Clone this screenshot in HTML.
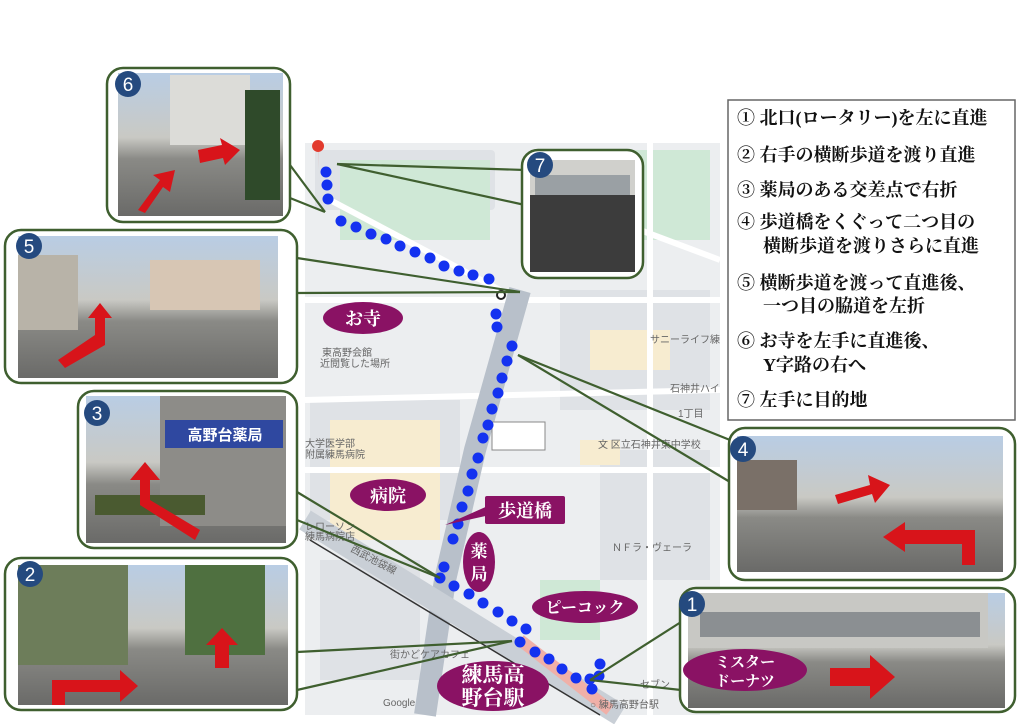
<!DOCTYPE html><html><head><meta charset="utf-8"><style>
body{margin:0;background:#fff;width:1024px;height:724px;overflow:hidden}
svg{display:block}
.t{font-family:"Liberation Serif","Noto Serif CJK SC",serif;font-size:18px;fill:#111;font-weight:bold}
.w{font-family:"Liberation Serif","Noto Serif CJK SC",serif;fill:#fff;text-anchor:middle;font-weight:bold}
.m{font-family:"Liberation Sans","Noto Sans CJK JP",sans-serif;font-size:10px;fill:#666}
</style></head><body>
<svg width="1024" height="724" viewBox="0 0 1024 724">
<rect x="305" y="143" width="415" height="572" fill="#eceef0"/>
<g fill="#dfe2e6">
<rect x="315" y="150" width="180" height="60" rx="4"/><rect x="560" y="290" width="150" height="120"/>
<rect x="310" y="400" width="150" height="120"/><rect x="600" y="450" width="110" height="130"/>
<rect x="320" y="560" width="100" height="120"/>
</g>
<g fill="#cfe8d6"><rect x="340" y="160" width="150" height="80"/><rect x="600" y="150" width="110" height="90"/><rect x="540" y="580" width="60" height="60"/></g>
<rect x="590" y="330" width="80" height="40" fill="#f7ecd0"/>
<rect x="330" y="420" width="110" height="120" fill="#f7ecd0"/>
<rect x="580" y="440" width="40" height="25" fill="#f7ecd0"/>
<g stroke="#fff" stroke-width="6" fill="none">
<path d="M330 200 L500 290"/><path d="M305 300 L720 300"/><path d="M560 200 L720 260"/><path d="M305 470 L720 470"/><path d="M650 143 L650 715"/><path d="M305 400 L720 390"/>
</g>
<path d="M520 290 L475 450 L445 580 L425 715" stroke="#b8c0ca" stroke-width="22" fill="none"/>
<path d="M305 520 L620 715" stroke="#c9cfd6" stroke-width="22" fill="none"/>
<path d="M310 540 L600 715" stroke="#333" stroke-width="1.5" fill="none"/>
<path d="M520 640 L610 710" stroke="#f0b0a8" stroke-width="12" fill="none"/>
<text x="322" y="356" class="m">東高野会館</text><text x="320" y="367" class="m" font-size="8">近閲覧した場所</text>
<text x="650" y="343" class="m">サニーライフ練</text><text x="670" y="392" class="m">石神井ハイ</text><text x="678" y="417" class="m">1丁目</text>
<text x="598" y="448" class="m" font-size="11">文 区立石神井東中学校</text>
<text x="612" y="551" class="m" font-size="11">ＮＦラ・ヴェーラ</text>
<text x="305" y="447" class="m" fill="#c33">大学医学部</text><text x="305" y="458" class="m" fill="#c33">附属練馬病院</text>
<text x="305" y="530" class="m" fill="#2a8fc7">レローソン</text><text x="305" y="540" class="m" fill="#2a8fc7">練馬病院店</text>
<text x="350" y="551" class="m" transform="rotate(28 350 551)">西武池袋線</text>
<text x="390" y="658" class="m" fill="#a77bc9">街かどケアカフェ</text>
<text x="383" y="706" class="m" font-size="13" fill="#4a7ae0">Google</text>
<text x="590" y="708" class="m" fill="#222" font-size="11">○ 練馬高野台駅</text>
<text x="640" y="688" class="m" fill="#2a8fc7">セブン</text>
<path d="M318 152 a6 6 0 1 1 0.1 0 L318 170 Z" fill="#e23b2e"/>
<rect x="492" y="422" width="53" height="28" fill="#fff" stroke="#888"/>
<g fill="#1432f0">
<circle cx="326" cy="172" r="5.5"/><circle cx="327" cy="185" r="5.5"/><circle cx="328" cy="199" r="5.5"/><circle cx="341" cy="221" r="5.5"/><circle cx="356" cy="227" r="5.5"/><circle cx="371" cy="234" r="5.5"/><circle cx="386" cy="239" r="5.5"/><circle cx="400" cy="246" r="5.5"/><circle cx="415" cy="252" r="5.5"/><circle cx="430" cy="258" r="5.5"/><circle cx="444" cy="266" r="5.5"/><circle cx="459" cy="271" r="5.5"/><circle cx="473" cy="275" r="5.5"/><circle cx="489" cy="279" r="5.5"/>
<circle cx="496" cy="314" r="5.5"/><circle cx="497" cy="327" r="5.5"/><circle cx="512" cy="346" r="5.5"/><circle cx="507" cy="361" r="5.5"/><circle cx="502" cy="378" r="5.5"/><circle cx="498" cy="393" r="5.5"/><circle cx="492" cy="409" r="5.5"/><circle cx="488" cy="425" r="5.5"/><circle cx="483" cy="438" r="5.5"/>
<circle cx="478" cy="458" r="5.5"/><circle cx="472" cy="474" r="5.5"/><circle cx="468" cy="491" r="5.5"/><circle cx="462" cy="507" r="5.5"/><circle cx="458" cy="524" r="5.5"/><circle cx="453" cy="539" r="5.5"/><circle cx="444" cy="567" r="5.5"/><circle cx="440" cy="578" r="5.5"/><circle cx="454" cy="586" r="5.5"/><circle cx="469" cy="594" r="5.5"/><circle cx="483" cy="603" r="5.5"/><circle cx="498" cy="612" r="5.5"/><circle cx="512" cy="621" r="5.5"/><circle cx="526" cy="629" r="5.5"/><circle cx="520" cy="642" r="5.5"/><circle cx="535" cy="652" r="5.5"/><circle cx="549" cy="659" r="5.5"/><circle cx="562" cy="669" r="5.5"/><circle cx="576" cy="678" r="5.5"/><circle cx="590" cy="679" r="5.5"/><circle cx="599" cy="676" r="5.5"/><circle cx="592" cy="689" r="5.5"/><circle cx="600" cy="664" r="5.5"/>
</g>
<circle cx="501" cy="295" r="4" fill="#fff" stroke="#222" stroke-width="2"/>
<g stroke="#3f5f2f" stroke-width="2.2" fill="none">
<path d="M290 165 L325 212"/><path d="M290 198 L325 212"/>
<path d="M337 164 L525 170"/><path d="M337 164 L525 205"/>
<path d="M297 258 L520 292"/><path d="M297 293 L520 292"/>
<path d="M518 355 L730 440"/><path d="M518 355 L730 482"/>
<path d="M297 492 L440 578"/><path d="M297 520 L440 578"/>
<path d="M297 652 L512 641"/><path d="M297 690 L512 641"/>
<path d="M590 680 L681 622"/><path d="M590 680 L681 690"/>
</g>
<rect x="728" y="100" width="287" height="320" fill="#fff" stroke="#666" stroke-width="1.5"/>
<text class="t" x="737" y="124">① 北口(ロータリー)を左に直進</text>
<text class="t" x="737" y="161">② 右手の横断歩道を渡り直進</text>
<text class="t" x="737" y="196">③ 薬局のある交差点で右折</text>
<text class="t" x="737" y="228">④ 歩道橋をくぐって二つ目の</text>
<text class="t" x="763" y="252">横断歩道を渡りさらに直進</text>
<text class="t" x="737" y="289">⑤ 横断歩道を渡って直進後、</text>
<text class="t" x="763" y="312">一つ目の脇道を左折</text>
<text class="t" x="737" y="347">⑥ お寺を左手に直進後、</text>
<text class="t" x="763" y="371">Y字路の右へ</text>
<text class="t" x="737" y="406">⑦ 左手に目的地</text>
<defs>
<linearGradient id="sky" x1="0" y1="0" x2="0" y2="1"><stop offset="0" stop-color="#b9cde4"/><stop offset=".45" stop-color="#c9c9c4"/><stop offset=".6" stop-color="#8a8a86"/><stop offset="1" stop-color="#6a6a68"/></linearGradient>
</defs>
<g stroke="#3f5f2f" stroke-width="2.5">
<rect x="107" y="68" width="183" height="154" rx="16" fill="#fff"/>
<rect x="5" y="230" width="292" height="153" rx="16" fill="#fff"/>
<rect x="78" y="391" width="219" height="157" rx="16" fill="#fff"/>
<rect x="5" y="558" width="292" height="152" rx="16" fill="#fff"/>
<rect x="729" y="428" width="286" height="152" rx="16" fill="#fff"/>
<rect x="680" y="588" width="335" height="124" rx="16" fill="#fff"/>
<rect x="522" y="150" width="121" height="128" rx="16" fill="#fff"/>
</g>
<rect x="118" y="73" width="165" height="143" fill="url(#sky)"/>
<rect x="170" y="75" width="80" height="70" fill="#dcdcd8"/><rect x="245" y="90" width="35" height="110" fill="#2f4a2a"/>
<rect x="18" y="236" width="260" height="142" fill="url(#sky)"/>
<rect x="18" y="255" width="60" height="75" fill="#b8b3a8"/><rect x="150" y="260" width="110" height="50" fill="#d7c6b4"/>
<rect x="86" y="396" width="200" height="147" fill="url(#sky)"/>
<rect x="160" y="396" width="126" height="130" fill="#8d8c88"/><rect x="165" y="420" width="118" height="28" fill="#2f48a0"/>
<text x="225" y="440" font-family="Liberation Sans,Noto Sans CJK JP,sans-serif" font-size="15" font-weight="bold" fill="#fff" text-anchor="middle">高野台薬局</text>
<rect x="95" y="495" width="110" height="20" fill="#4a5a30"/>
<rect x="18" y="565" width="270" height="140" fill="url(#sky)"/>
<rect x="18" y="565" width="110" height="100" fill="#6d7d5a"/><rect x="185" y="565" width="80" height="90" fill="#4f7040"/>
<rect x="737" y="436" width="266" height="136" fill="url(#sky)"/>
<rect x="737" y="460" width="60" height="50" fill="#7a7068"/>
<rect x="688" y="593" width="317" height="115" fill="url(#sky)"/>
<rect x="688" y="593" width="300" height="55" fill="#c8c8c4"/><rect x="700" y="612" width="280" height="25" fill="#8b8f92"/>
<rect x="530" y="160" width="105" height="112" fill="#d0d0cc"/><rect x="530" y="195" width="105" height="77" fill="#3c3c3c"/><rect x="535" y="175" width="95" height="20" fill="#9aa0a4"/>
<g fill="#d8141a">
<path d="M138 210 L160 180 L153 175 L175 170 L170 192 L163 187 L145 213 Z"/>
<path d="M198 150 L222 145 L220 138 L240 150 L225 165 L223 158 L200 163 Z"/>
<path d="M58 360 L95 335 L95 318 L88 318 L100 303 L112 318 L105 318 L105 345 L65 368 Z"/>
<path d="M195 540 L140 505 L140 480 L130 480 L145 462 L160 480 L150 480 L150 500 L200 530 Z"/>
<path d="M52 705 L52 680 L120 680 L120 670 L138 686 L120 702 L120 692 L65 692 L65 705 Z"/>
<path d="M215 668 L215 645 L206 645 L222 628 L238 645 L229 645 L229 668 Z"/>
<path d="M835 495 L870 485 L868 475 L890 485 L875 503 L872 494 L838 504 Z"/>
<path d="M975 565 L975 530 L905 530 L905 522 L883 537 L905 552 L905 544 L962 544 L962 565 Z"/>
<path d="M830 668 L870 668 L870 655 L895 677 L870 699 L870 686 L830 686 Z"/>
</g>
<g fill="#254a7f">
<circle cx="128" cy="84" r="13"/><circle cx="29" cy="246" r="13"/><circle cx="97" cy="413" r="13"/><circle cx="30" cy="574" r="13"/><circle cx="743" cy="449" r="13"/><circle cx="692" cy="604" r="13"/><circle cx="540" cy="165" r="13"/>
</g>
<g font-family="Liberation Sans,sans-serif" font-size="19" fill="#fff" text-anchor="middle">
<text x="128" y="91">6</text><text x="29" y="253">5</text><text x="97" y="420">3</text><text x="30" y="581">2</text><text x="743" y="456">4</text><text x="692" y="611">1</text><text x="540" y="172">7</text>
</g>
<g fill="#8a1264">
<ellipse cx="363" cy="318" rx="40" ry="16"/>
<ellipse cx="388" cy="495" rx="38" ry="16"/>
<rect x="485" y="496" width="80" height="28" rx="2"/><path d="M490 515 L445 525 L490 505 Z"/>
<ellipse cx="479" cy="562" rx="16" ry="30"/>
<ellipse cx="585" cy="607" rx="53" ry="16"/>
<ellipse cx="493" cy="686" rx="56" ry="25"/>
<ellipse cx="745" cy="670" rx="62" ry="21"/>
</g>
<text class="w" x="363" y="325" font-size="18">お寺</text>
<text class="w" x="388" y="502" font-size="18">病院</text>
<text class="w" x="525" y="517" font-size="18">歩道橋</text>
<text class="w" x="479" y="557" font-size="17">薬</text><text class="w" x="479" y="580" font-size="17">局</text>
<text class="w" x="585" y="613" font-size="16">ピーコック</text>
<text class="w" x="493" y="682" font-size="21">練馬高</text><text class="w" x="493" y="705" font-size="21">野台駅</text>
<text class="w" x="745" y="667" font-size="15">ミスター</text><text class="w" x="745" y="686" font-size="15">ドーナツ</text>
</svg>
</body></html>
